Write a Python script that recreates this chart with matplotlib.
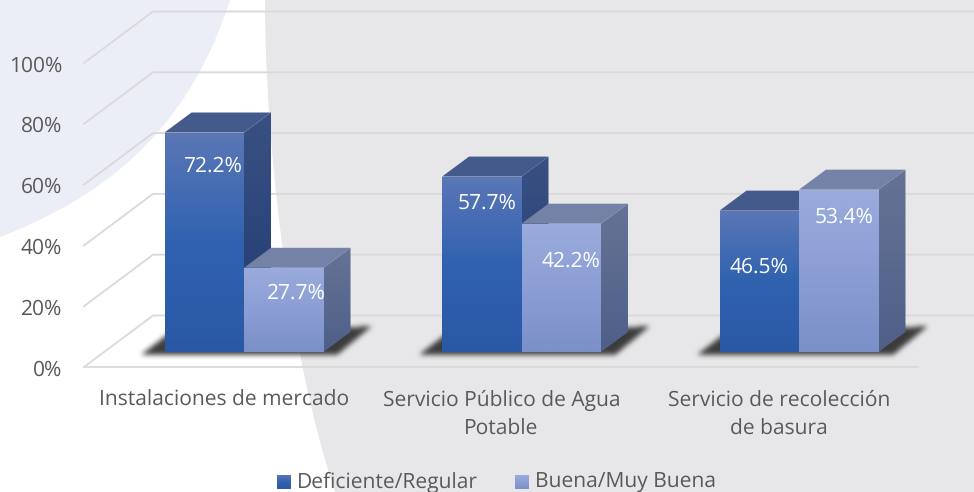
import numpy as np
import matplotlib
matplotlib.use("Agg")
import matplotlib.pyplot as plt
from matplotlib.colors import LinearSegmentedColormap
from matplotlib.patches import Polygon, PathPatch
from matplotlib.path import Path

plt.rcParams['font.family'] = ['Open Sans', 'DejaVu Sans']
plt.rcParams['text.hinting'] = 'no_hinting'
plt.rcParams['text.hinting_factor'] = 1

# datos
categorias = ["Instalaciones de mercado", "Servicio Público de Agua\nPotable", "Servicio de recolección\nde basura"]
series = ["Deficiente/Regular", "Buena/Muy Buena"]
deficiente = [72.2, 57.7, 46.5]
buena = [27.7, 42.2, 53.4]
ticks = [0, 20, 40, 60, 80, 100]

# escala: pixeles por unidad
W, H = 974, 492
PX_CAT = 277.5
PX_PCT = 3.04
X0, Y0 = 244, 352   # centro del primer grupo, base de las barras

# desplazamiento de cada etiqueta respecto a su barra (pixeles)
label_dx = [[8, 13], [5, 10], [0, 5]]
label_dy = [[33, 24], [26, 37], [56, 27]]

fig = plt.figure(figsize=(W / 100, H / 100), dpi=100)

# fondo en pixeles
bg = fig.add_axes([0, 0, 1, 1])
bg.set_xlim(0, W)
bg.set_ylim(H, 0)
bg.axis('off')
C3 = Path.CURVE4
gris = Path([(265, 0), (265, 130), (285, 340), (335, H), (W, H), (W, 0), (265, 0)],
            [Path.MOVETO, C3, C3, C3, Path.LINETO, Path.LINETO, Path.CLOSEPOLY])
bg.add_patch(PathPatch(gris, fc='#e7e7e9', ec='none'))
celeste = Path([(0, 0), (230, 0), (185, 140), (95, 200), (0, 237), (0, 0)],
               [Path.MOVETO, Path.LINETO, C3, C3, C3, Path.CLOSEPOLY])
bg.add_patch(PathPatch(celeste, fc='#ebeef7', ec='none'))

# ejes de datos: x en categorias, y en porcentaje
ax = fig.add_axes([0, 0, 1, 1])
ax.patch.set_alpha(0)
ax.axis('off')
xlim = (-X0 / PX_CAT, (W - X0) / PX_CAT)
ylim = ((Y0 - H) / PX_PCT, Y0 / PX_PCT)


def dx(p):
    return p / PX_CAT


def dy(p):
    return p / PX_PCT


def degradado(pts, colores, z):
    cmap = LinearSegmentedColormap.from_list('g', colores)
    xs = [p[0] for p in pts]
    ys = [p[1] for p in pts]
    im = ax.imshow(np.linspace(0, 1, 128).reshape(-1, 1), cmap=cmap, aspect='auto', zorder=z,
                   extent=(min(xs), max(xs), min(ys), max(ys)), interpolation='bilinear')
    poly = Polygon(pts, transform=ax.transData, fc='none', ec='none')
    ax.add_patch(poly)
    im.set_clip_path(poly)


# rejilla: paredes y piso
grid_c = '#d9d9d9'
front_y = -dy(15)
back_y = dy(36.5)
left_front = dx(84 - X0)
left_back = dx(153 - X0)
right_front = dx(918 - X0)
right_back = dx(W + 2 - X0)
for t in ticks:
    ax.plot([left_front, left_back, right_back], [t + front_y, t + back_y, t + back_y],
            color=grid_c, lw=1.3, zorder=1, solid_joinstyle='miter')
ax.plot([left_front, right_front], [front_y, front_y], color=grid_c, lw=1.3, zorder=1)

for t in ticks:
    ax.text(dx(62 - X0), t + front_y - dy(3), f"{t}%", ha='right', va='center', fontsize=15, color='#595959')

# barras
w = dx(79.5)
d_x = dx(27)
d_y = dy(20)
azul = dict(front=('#5b77b6', '#3062b0', '#2a58a5'), side=('#3a5082', '#1f3c72'), top='#445a8a')
claro = dict(front=('#9aabdc', '#8c9ed5', '#7b8fc8'), side=('#667395', '#4e5f88'), top='#7582a8')


def sombra(x_left, x_right):
    # sombra difusa sobre el piso: mascara suavizada
    pts = np.array([(x_left - dx(24), -dy(3.5)), (x_left + dx(5), dy(19)), (x_right + d_x + dx(22), dy(26)),
                    (x_right + dx(14), -dy(3.5))])
    x_a, x_b = x_left - dx(40), x_right + d_x + dx(40)
    y_a, y_b = -dy(14), dy(36)
    nx, ny = int((x_b - x_a) * PX_CAT), int((y_b - y_a) * PX_PCT)
    gx, gy = np.meshgrid(np.linspace(x_a, x_b, nx), np.linspace(y_b, y_a, ny))
    inside = Path(pts).contains_points(np.c_[gx.ravel(), gy.ravel()]).reshape(ny, nx).astype(float)
    k = np.ones(5) / 5
    for _ in range(3):
        inside = np.apply_along_axis(lambda r: np.convolve(r, k, mode='same'), 0, inside)
        inside = np.apply_along_axis(lambda r: np.convolve(r, k, mode='same'), 1, inside)
    rgba = np.zeros((ny, nx, 4))
    rgba[..., :3] = 0.2
    rgba[..., 3] = inside * 0.95
    ax.imshow(rgba, aspect='auto', zorder=2, extent=(x_a, x_b, y_a, y_b), interpolation='bilinear')


def barra(x, v, col, z):
    s = [(x + w, 0), (x + w + d_x, d_y), (x + w + d_x, v + d_y), (x + w, v)]
    t = [(x, v), (x + w, v), (x + w + d_x, v + d_y), (x + d_x, v + d_y)]
    degradado(s, col['side'], z)
    ax.add_patch(Polygon(t, fc=col['top'], ec='none', zorder=z))
    f = [(x, 0), (x + w, 0), (x + w, v), (x, v)]
    degradado(f, col['front'], z + 0.1)


for i in range(len(categorias)):
    sombra(i - w, i + w)
    barra(i - w, deficiente[i], azul, 3)
    barra(i, buena[i], claro, 4)
    ax.text(i - w / 2 + dx(label_dx[i][0]), deficiente[i] - dy(label_dy[i][0] + 1), f"{deficiente[i]}%",
            ha='center', va='center', color='white', fontsize=15.3, zorder=6)
    ax.text(i + w / 2 + dx(label_dx[i][1]), buena[i] - dy(label_dy[i][1] + 1), f"{buena[i]}%",
            ha='center', va='center', color='white', fontsize=15.3, zorder=6)
    ax.text(i - dx(20), -dy(38), categorias[i], ha='center', va='top', color='#595959', fontsize=14.9,
            linespacing=1.47, zorder=6)

# leyenda
for nombre, col, xs, xt in [(series[0], azul, 277, 297), (series[1], claro, 515, 535)]:
    y_top = -dy(475 - Y0)
    y_bot = -dy(489 - Y0)
    x_a = dx(xs - X0)
    x_b = dx(xs + 14 - X0)
    degradado([(x_a, y_bot), (x_b, y_bot), (x_b, y_top), (x_a, y_top)], col['front'], 5)
    ax.text(dx(xt - X0), -dy(488 - Y0), nombre, ha='left', va='baseline', color='#595959', fontsize=15)

ax.set_xlim(*xlim)
ax.set_ylim(*ylim)

fig.savefig("out.png", dpi=100)
